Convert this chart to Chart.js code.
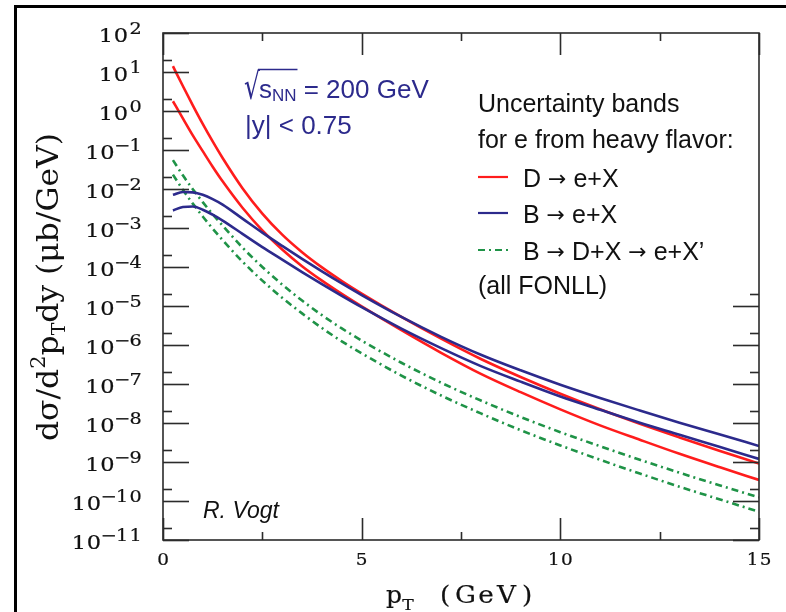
<!DOCTYPE html>
<html>
<head>
<meta charset="utf-8">
<script src="https://cdn.jsdelivr.net/npm/chart.js@4.4.1/dist/chart.umd.min.js"></script>
<style>
  html, body { margin: 0; padding: 0; background: #fff; }
</style>
</head>
<body>
<canvas id="chart" width="786" height="612"></canvas>
<script>
// Electrons from heavy-flavour decays, sqrt(s_NN) = 200 GeV, |y| < 0.75.
// Each process is an uncertainty band: an upper and a lower FONLL edge, in µb/GeV.

const pT = [0.25, 0.5, 0.75, 1, 1.25, 1.5, 2, 2.5, 3, 3.5, 4, 4.5, 5, 6, 7, 8, 9, 10, 11, 12, 13, 14, 15];

// D -> e+X
const dUpper = [14.1, 4.37, 1.40, 0.468, 0.166, 0.0624, 1.05e-2, 2.34e-3, 6.76e-4, 2.40e-4, 9.77e-5, 4.37e-5,
  2.09e-5, 5.25e-6, 1.45e-6, 4.37e-7, 1.51e-7, 5.62e-8, 2.24e-8, 9.55e-9, 4.27e-9, 1.95e-9, 9.12e-10];
const dLower = [1.78, 0.646, 0.237, 0.0933, 0.0372, 0.0157, 3.31e-3, 8.71e-4, 2.82e-4, 1.05e-4, 4.47e-5, 2.04e-5,
  9.77e-6, 2.40e-6, 6.31e-7, 1.82e-7, 6.17e-8, 2.24e-8, 8.71e-9, 3.72e-9, 1.62e-9, 7.41e-10, 3.47e-10];

// B -> e+X
const bUpper = [7.08e-3, 8.4e-3, 8.2e-3, 7.08e-3, 5.50e-3, 3.98e-3, 1.74e-3, 7.59e-4, 3.47e-4, 1.62e-4, 7.76e-5, 3.80e-5,
  1.91e-5, 5.25e-6, 1.62e-6, 5.62e-7, 2.24e-7, 9.55e-8, 4.37e-8, 2.09e-8, 1.02e-8, 5.13e-9, 2.57e-9];
const bLower = [2.82e-3, 3.47e-3, 3.55e-3, 2.95e-3, 2.19e-3, 1.55e-3, 7.08e-4, 3.24e-4, 1.55e-4, 7.41e-5, 3.63e-5, 1.82e-5,
  9.33e-6, 2.63e-6, 8.32e-7, 2.88e-7, 1.15e-7, 4.79e-8, 2.19e-8, 1.02e-8, 5.01e-9, 2.45e-9, 1.20e-9];

// B -> D+X -> e+X'
const bdUpper = [5.50e-2, 2.24e-2, 9.89e-3, 4.62e-3, 2.26e-3, 1.15e-3, 3.16e-4, 1.0e-4, 3.55e-5, 1.38e-5, 5.82e-6, 2.66e-6,
  1.30e-6, 3.51e-7, 1.08e-7, 3.76e-8, 1.43e-8, 5.82e-9, 2.54e-9, 1.14e-9, 5.31e-10, 2.54e-10, 1.24e-10];
const bdLower = [2.34e-2, 9.55e-3, 4.22e-3, 1.97e-3, 9.66e-4, 4.90e-4, 1.38e-4, 4.47e-5, 1.62e-5, 6.46e-6, 2.72e-6, 1.24e-6,
  6.10e-7, 1.64e-7, 5.07e-8, 1.76e-8, 6.53e-9, 2.66e-9, 1.14e-9, 5.07e-10, 2.32e-10, 1.11e-10, 5.31e-11];

// Axis ticks
const xTickValues = [0, 5, 10, 15];
const xTickLabels = ['0', '5', '10', '15'];
const xMinorValues = [2.5, 7.5, 12.5];
const yTickExponents = [2, 1, 0, -1, -2, -3, -4, -5, -6, -7, -8, -9, -10, -11];

const COL = { axis: '#2b2b2b', ink: '#111', red: '#ff1c1c', blue: '#2c2a8c', green: '#1f9347', navy: '#2c2a8c' };
const DASHDOT = [7, 4, 2, 4];
const SERIF = '"DejaVu Serif", serif';
const SANS = '"Liberation Sans", Arial, sans-serif';
const SYM = '"DejaVu Sans", sans-serif';

const band = (vals) => pT.map((x, i) => ({ x, y: vals[i] }));

function edge(vals, color, dashed) {
  return {
    data: band(vals),
    borderColor: color,
    borderWidth: 2.6,
    borderDash: dashed ? DASHDOT : [],
    pointRadius: 0,
    fill: false,
    cubicInterpolationMode: 'monotone',
  };
}

// One character, centred on cx and stretched sideways (the axis font is wide).
function glyph(ctx, ch, cx, base, font, sx) {
  ctx.save();
  ctx.font = font;
  ctx.fillStyle = COL.ink;
  ctx.strokeStyle = COL.ink;
  ctx.lineWidth = 0.2;
  ctx.textAlign = 'center';
  ctx.textBaseline = 'alphabetic';
  ctx.translate(cx, base);
  ctx.scale(sx, 1);
  ctx.fillText(ch, 0, 0);
  ctx.strokeText(ch, 0, 0);
  ctx.restore();
}

// Runs of text in mixed fonts, left to right from x; returns the end x.
function runs(ctx, parts, x, base, color) {
  ctx.save();
  ctx.fillStyle = color;
  ctx.textAlign = 'left';
  ctx.textBaseline = 'alphabetic';
  parts.forEach((p) => {
    ctx.font = p.font;
    ctx.fillText(p.t, x, base + (p.dy || 0));
    x += ctx.measureText(p.t).width;
  });
  ctx.restore();
  return x;
}

function tick(ctx, x1, y1, x2, y2) {
  ctx.beginPath();
  ctx.moveTo(x1, y1);
  ctx.lineTo(x2, y2);
  ctx.stroke();
}

const decorations = {
  id: 'decorations',
  afterDraw(chart) {
    const { ctx, chartArea: a } = chart;
    const x = chart.scales.x;
    const y = chart.scales.y;

    ctx.save();
    ctx.strokeStyle = COL.axis;
    ctx.lineWidth = 1.6;
    ctx.strokeRect(a.left, a.top, a.right - a.left, a.bottom - a.top);

    // y ticks: decades long, 2x10^n short; the right side only below the legend
    yTickExponents.forEach((e) => {
      const py = Math.round(y.getPixelForValue(10 ** e)) + 0.5;
      tick(ctx, a.left, py, a.left + 26, py);
      if (10 ** e <= 2e-5) tick(ctx, a.right, py, a.right - 26, py);
      if (e < 2) {
        const pm = Math.round(y.getPixelForValue(2 * 10 ** e)) + 0.5;
        tick(ctx, a.left, pm, a.left + 9, pm);
        if (2 * 10 ** e <= 2e-5) tick(ctx, a.right, pm, a.right - 9, pm);
      }
    });

    // x ticks, bottom and top
    xTickValues.forEach((v) => {
      const px = Math.round(x.getPixelForValue(v)) + 0.5;
      tick(ctx, px, a.bottom, px, a.bottom - 22);
      tick(ctx, px, a.top, px, a.top + 22);
    });
    xMinorValues.forEach((v) => {
      const px = Math.round(x.getPixelForValue(v)) + 0.5;
      tick(ctx, px, a.bottom, px, a.bottom - 8);
      tick(ctx, px, a.top, px, a.top + 8);
    });

    // y tick labels: 10 with a superscript exponent, right aligned
    yTickExponents.forEach((e) => {
      const py = y.getPixelForValue(10 ** e);
      const chars = ((e < 0 ? '\u2212' : '') + Math.abs(e)).split('');
      const right = 142;
      const first = right - 6.5 - 13.5 * (chars.length - 1);
      chars.forEach((ch, i) => glyph(ctx, ch, first + 13.5 * i, py + 1, '16px ' + SERIF, 1.2));
      glyph(ctx, '0', first - 14.5, py + 9, '18px ' + SERIF, 1.25);
      glyph(ctx, '1', first - 29.5, py + 9, '18px ' + SERIF, 1.25);
    });

    // x tick labels
    xTickValues.forEach((v, i) => {
      const px = x.getPixelForValue(v);
      const chars = xTickLabels[i].split('');
      const start = px - 6.5 * (chars.length - 1);
      chars.forEach((ch, k) => glyph(ctx, ch, start + 13 * k, a.bottom + 25, '16px ' + SERIF, 1.15));
    });

    // x title: p_T (GeV)
    glyph(ctx, 'p', 394, 603, '25px ' + SERIF, 1.0);
    glyph(ctx, 'T', 408, 610, '15px ' + SERIF, 1.15);
    '(GeV)'.split('').forEach((ch, i) => glyph(ctx, ch, 445 + 20.5 * i, 603, '25px ' + SERIF, 1.05));

    // y title, rotated: dσ/d²p_T dy (µb/GeV)
    const segs = [
      { t: 'd\u03c3/d', size: 30, rise: 0 },
      { t: '2', size: 20, rise: 13 },
      { t: 'p', size: 30, rise: 0 },
      { t: 'T', size: 18, rise: -7 },
      { t: 'dy (\u03bcb/GeV)', size: 30, rise: 0 },
    ];
    let total = 0;
    segs.forEach((s) => { ctx.font = s.size + 'px ' + SERIF; s.w = ctx.measureText(s.t).width; total += s.w; });
    ctx.save();
    ctx.translate(58, 287);
    ctx.rotate(-Math.PI / 2);
    ctx.scale(308 / total, 1);
    ctx.fillStyle = COL.ink;
    ctx.textAlign = 'left';
    ctx.textBaseline = 'alphabetic';
    let cx = -total / 2;
    segs.forEach((s) => {
      ctx.font = s.size + 'px ' + SERIF;
      ctx.fillText(s.t, cx, -s.rise);
      cx += s.w;
    });
    ctx.restore();

    // collision energy and rapidity window; the root sign is drawn tall with a bar over s_NN
    const navy = '26px ' + SANS;
    const rootFont = '25px ' + SYM;
    const rootScale = 1.45;
    ctx.save();
    ctx.font = rootFont;
    ctx.fillStyle = COL.navy;
    const root = ctx.measureText('\u221a');
    ctx.translate(244, 99);
    ctx.scale(1, rootScale);
    ctx.fillText('\u221a', 0, 0);
    ctx.restore();
    const barY = 99 - root.actualBoundingBoxAscent * rootScale + 1;
    const afterRoot = 244 + root.width;
    const afterNN = runs(ctx, [{ t: 's', font: navy }, { t: 'NN', font: '17px ' + SANS, dy: 3 }], afterRoot - 1, 98, COL.navy);
    ctx.strokeStyle = COL.navy;
    ctx.lineWidth = 1.5;
    tick(ctx, afterRoot - 2, barY, afterNN + 1, barY);
    runs(ctx, [{ t: ' = 200 GeV', font: navy }], afterNN, 98, COL.navy);
    runs(ctx, [{ t: '|y| < 0.75', font: navy }], 245, 134, COL.navy);

    // legend
    const leg = '25px ' + SANS;
    const arrow = { t: '\u2192', font: '22px ' + SYM, dy: -1 };
    runs(ctx, [{ t: 'Uncertainty bands', font: leg }], 478, 112, COL.ink);
    runs(ctx, [{ t: 'for e from heavy flavor:', font: leg }], 478, 148, COL.ink);
    const rows = [
      { parts: [{ t: 'D ', font: leg }, arrow, { t: ' e+X', font: leg }], base: 187, color: COL.red, dash: [] },
      { parts: [{ t: 'B ', font: leg }, arrow, { t: ' e+X', font: leg }], base: 223, color: COL.blue, dash: [] },
      {
        parts: [{ t: 'B ', font: leg }, arrow, { t: ' D+X ', font: leg }, arrow, { t: ' e+X\u2019', font: leg }],
        base: 260, color: COL.green, dash: DASHDOT,
      },
    ];
    rows.forEach((r) => {
      ctx.save();
      ctx.strokeStyle = r.color;
      ctx.lineWidth = 2.2;
      ctx.setLineDash(r.dash);
      tick(ctx, 478, r.base - 10, 508, r.base - 10);
      ctx.restore();
      runs(ctx, r.parts, 523, r.base, COL.ink);
    });
    runs(ctx, [{ t: '(all FONLL)', font: leg }], 478, 294, COL.ink);

    runs(ctx, [{ t: 'R. Vogt', font: 'italic 23px ' + SANS }], 203, 518, COL.ink);

    // outer border (top and left edges)
    ctx.strokeStyle = '#000';
    ctx.lineWidth = 3;
    tick(ctx, 14, 6.5, 786, 6.5);
    tick(ctx, 15.5, 5, 15.5, 612);
    ctx.restore();
  },
};

new Chart(document.getElementById('chart'), {
  type: 'line',
  data: {
    datasets: [
      edge(bUpper, COL.blue, false),
      edge(bLower, COL.blue, false),
      edge(dUpper, COL.red, false),
      edge(dLower, COL.red, false),
      edge(bdUpper, COL.green, true),
      edge(bdLower, COL.green, true),
    ],
  },
  options: {
    responsive: false,
    animation: false,
    devicePixelRatio: 1,
    events: [],
    layout: { padding: { left: 163, right: 27, top: 33, bottom: 72 } },
    scales: {
      x: { type: 'linear', min: 0, max: 15, display: false },
      y: { type: 'logarithmic', min: 1e-11, max: 1e2, display: false },
    },
    plugins: { legend: { display: false }, tooltip: { enabled: false } },
  },
  plugins: [decorations],
});
</script>
</body>
</html>
